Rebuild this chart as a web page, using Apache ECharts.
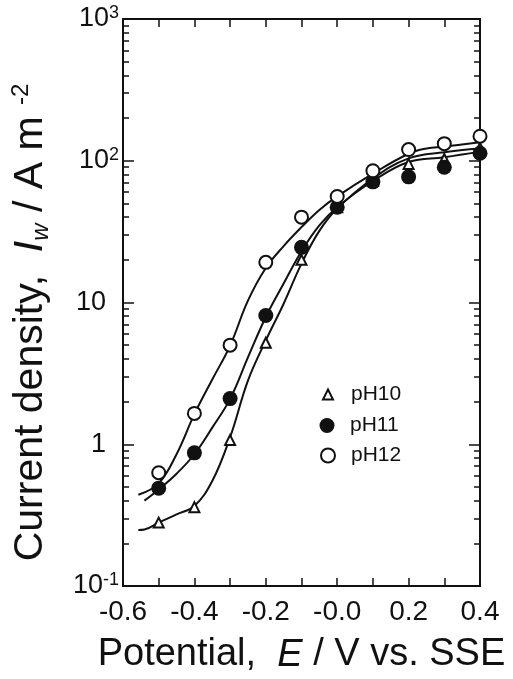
<!DOCTYPE html>
<html>
<head>
<meta charset="UTF-8">
<style>
  html, body { margin: 0; padding: 0; background: #fff; }
  #chart { width: 513px; height: 679px; }
</style>
</head>
<body>
<div id="chart"></div>
<script src="https://cdn.jsdelivr.net/npm/echarts@6/dist/echarts.min.js"></script>
<script>
// measured points (potential E / V vs SSE, current density / A m-2)
var pointE = [-0.5, -0.4, -0.3, -0.2, -0.1, 0.0, 0.1, 0.2, 0.3, 0.4];
var pH10I = [0.28, 0.36, 1.07, 5.2, 20, 47, 72, 95, 103, 123];
var pH11I = [0.49, 0.87, 2.1, 8.1, 24.5, 47, 71, 77, 90, 113];
var pH12I = [0.63, 1.65, 5.0, 19.2, 40, 56, 85, 120, 132, 149];

// fitted curves
var fit10E = [-0.557, -0.54, -0.5, -0.45, -0.4, -0.35, -0.3, -0.25, -0.2, -0.15, -0.1, -0.05, 0, 0.1, 0.2, 0.3, 0.4];
var fit10I = [0.248, 0.25, 0.28, 0.32, 0.367, 0.55, 1.12, 2.81, 5.4, 9.8, 18.8, 32, 46, 75, 104, 115, 122];
var fit11E = [-0.54, -0.5, -0.45, -0.4, -0.35, -0.3, -0.25, -0.2, -0.15, -0.1, -0.05, 0, 0.1, 0.2, 0.3, 0.4];
var fit11I = [0.40, 0.48, 0.62, 0.85, 1.31, 2.09, 4.1, 7.9, 13.6, 23, 35, 47, 72, 98, 106, 116];
var fit12E = [-0.557, -0.5, -0.45, -0.4, -0.35, -0.3, -0.25, -0.2, -0.15, -0.1, -0.05, 0, 0.1, 0.2, 0.25, 0.3, 0.4];
var fit12I = [0.44, 0.53, 0.85, 1.63, 2.86, 4.97, 10.3, 17.5, 25, 34, 45, 56, 81, 112, 122, 126, 135];

// tick labels
var xTickValues = [-0.6, -0.4, -0.2, 0.0, 0.2, 0.4];
var xTickLabels = ['-0.6', '-0.4', '-0.2', '-0.0', '0.2', '0.4'];
var yTickValues = [0.1, 1, 10, 100, 1000];
var yTickBase = ['10', '1', '10', '10', '10'];
var yTickExp = ['-1', '', '', '2', '3'];
var yMinorTicks = [];
[0.1, 1, 10, 100].forEach(function (d) {
    for (var k = 2; k <= 9; k++) yMinorTicks.push(+(d * k).toPrecision(3));
});

function zip(xs, ys) {
    return xs.map(function (x, i) { return [x, ys[i]]; });
}

var chart = echarts.init(document.getElementById('chart'), null, { renderer: 'canvas' });

var font = 'Liberation Sans, Arial, Helvetica, sans-serif';
var black = '#111';

function xAxisBase(pos) {
    return {
        type: 'value',
        position: pos,
        min: -0.6,
        max: 0.4,
        interval: 0.1,
        splitLine: { show: false },
        axisLine: { onZero: false, lineStyle: { color: black, width: 2 } },
        axisTick: { inside: true, length: 8, lineStyle: { color: black, width: 1.5 } }
    };
}

function yAxisBase(pos, ticks, len) {
    return {
        type: 'log',
        logBase: 10,
        position: pos,
        min: 0.1,
        max: 1000,
        splitLine: { show: false },
        axisLine: { show: true, onZero: false, lineStyle: { color: black, width: 2 } },
        axisTick: { inside: true, length: len, customValues: ticks, lineStyle: { color: black, width: 1.5 } },
        axisLabel: { show: false }
    };
}

var xMain = xAxisBase('bottom');
xMain.axisLabel = {
    margin: 12,
    fontSize: 28,
    fontFamily: font,
    color: black,
    formatter: function (v) {
        for (var i = 0; i < xTickValues.length; i++) {
            if (Math.abs(v - xTickValues[i]) < 1e-6) return xTickLabels[i];
        }
        return '';
    }
};
xMain.name = '{n|Potential,  }{i|E}{n| / V vs. SSE}';
xMain.nameLocation = 'middle';
xMain.nameGap = 50;
xMain.nameTextStyle = {
    rich: {
        n: { fontSize: 38, fontFamily: font, color: black },
        i: { fontSize: 38, fontFamily: font, fontStyle: 'italic', color: black }
    }
};
var xTop = xAxisBase('top');
xTop.axisLabel = { show: false };

var yMain = yAxisBase('left', yTickValues, 11);
yMain.axisLabel = {
    show: true,
    margin: 4,
    color: black,
    formatter: function (v) {
        for (var i = 0; i < yTickValues.length; i++) {
            if (Math.abs(Math.log10(v) - Math.log10(yTickValues[i])) < 1e-6) {
                if (yTickExp[i]) return '{b|' + yTickBase[i] + '}{s|' + yTickExp[i] + '}';
                return '{p|' + yTickBase[i] + '}';
            }
        }
        return '';
    },
    rich: {
        b: { fontSize: 27, fontFamily: font, color: black, lineHeight: 30 },
        p: { fontSize: 27, fontFamily: font, color: black, lineHeight: 30, padding: [0, 13, 0, 0] },
        s: { fontSize: 18, fontFamily: font, color: black, lineHeight: 18, verticalAlign: 'top' }
    }
};
yMain.name = '{n|Current density,  }{i|I}{sub|w}{n| / A m }{sup|-2}';
yMain.nameLocation = 'middle';
yMain.nameGap = 70;
yMain.nameTextStyle = {
    padding: [0, 40, 0, 0],
    rich: {
        n: { fontSize: 41, fontFamily: font, color: black, lineHeight: 44 },
        i: { fontSize: 41, fontFamily: font, fontStyle: 'italic', color: black, lineHeight: 44 },
        sub: { fontSize: 24, fontFamily: font, fontStyle: 'italic', color: black, lineHeight: 24, verticalAlign: 'bottom' },
        sup: { fontSize: 24, fontFamily: font, color: black, lineHeight: 24, verticalAlign: 'top' }
    }
};

function legendFor(name, top, size) {
    return {
        data: [name], left: 327 - size / 2, top: top,
        itemWidth: size, itemHeight: size, padding: 0, symbolKeepAspect: true,
        textStyle: { fontSize: 21, fontFamily: font, color: black, padding: [0, 0, 0, 18 - size / 2] }
    };
}

var option = {
    backgroundColor: '#fff',
    animation: false,
    grid: { left: 123, right: 33, top: 19, bottom: 93, outerBoundsMode: 'none' },
    xAxis: [xMain, xTop],
    yAxis: [
        yMain,
        yAxisBase('left', yMinorTicks, 6),
        yAxisBase('right', yTickValues, 11),
        yAxisBase('right', yMinorTicks, 6)
    ],
    legend: [
        legendFor('pH10', 384, 10),
        legendFor('pH11', 415, 15),
        legendFor('pH12', 445, 14)
    ],
    series: [
        { name: 'fit10', type: 'line', data: zip(fit10E, fit10I), smooth: 0.4, showSymbol: false,
          lineStyle: { color: black, width: 2 }, z: 2, silent: true },
        { name: 'fit11', type: 'line', data: zip(fit11E, fit11I), smooth: 0.4, showSymbol: false,
          lineStyle: { color: black, width: 2 }, z: 2, silent: true },
        { name: 'fit12', type: 'line', data: zip(fit12E, fit12I), smooth: 0.4, showSymbol: false,
          lineStyle: { color: black, width: 2 }, z: 2, silent: true },
        { name: 'pH10', type: 'scatter', data: zip(pointE, pH10I), symbol: 'triangle', symbolSize: 10,
          itemStyle: { color: '#fff', borderColor: black, borderWidth: 2, opacity: 1 }, z: 3 },
        { name: 'pH11', type: 'scatter', data: zip(pointE, pH11I), symbol: 'circle', symbolSize: 15,
          itemStyle: { color: black, opacity: 1 }, z: 4 },
        { name: 'pH12', type: 'scatter', data: zip(pointE, pH12I), symbol: 'circle', symbolSize: 13,
          itemStyle: { color: '#fff', borderColor: black, borderWidth: 2, opacity: 1 }, z: 5 }
    ]
};

chart.setOption(option);
</script>
</body>
</html>
